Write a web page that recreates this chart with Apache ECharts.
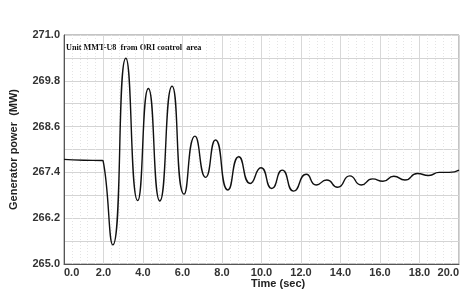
<!DOCTYPE html>
<html>
<head>
<meta charset="utf-8">
<script src="https://cdn.jsdelivr.net/npm/echarts@6/dist/echarts.min.js"></script>
<style>
  html, body { margin: 0; padding: 0; background: #fff; }
  #chart { width: 476px; height: 298px; }
</style>
</head>
<body>
<div id="chart"></div>
<script>
// time (sec) and generator power (MW)
var timeSec = [0, 1.0, 1.93, 1.98, 2.47, 3.13, 3.73, 4.27, 4.85, 5.47, 6.08, 6.63, 7.17, 7.67,
  8.3, 8.85, 9.43, 9.97, 10.52, 11.05, 11.63, 12.27, 12.77, 13.3, 13.85, 14.47, 15.05,
  15.62, 16.15, 16.7, 17.26, 17.89, 18.47, 19.0, 19.5, 20.0];
var powerMW = [267.74, 267.72, 267.71, 267.70, 265.50, 270.39, 266.66, 269.60, 266.65, 269.66,
  266.83, 268.35, 267.27, 268.25, 266.94, 267.81, 267.11, 267.52, 266.98, 267.46, 266.91,
  267.35, 267.07, 267.20, 267.01, 267.31, 267.07, 267.23, 267.17, 267.30, 267.20, 267.37,
  267.32, 267.40, 267.40, 267.46];
var yTicks = [265.0, 266.2, 267.4, 268.6, 269.8, 271.0];
var xTicks = [0, 2, 4, 6, 8, 10, 12, 14, 16, 18, 20];
var caption = "Unit MMT-U8  from ORI control  area";

var chart = echarts.init(document.getElementById("chart"));
var points = timeSec.map(function (t, i) { return [t, powerMW[i]]; });

var labelStyle = {
  color: "#333",
  fontFamily: "Liberation Sans",
  fontWeight: "bold",
  fontSize: 11
};

var option = {
  animation: false,
  grid: {
    left: 59, right: 17, top: 35, bottom: 34,
    show: true,
    borderColor: "#888",
    borderWidth: 1
  },
  xAxis: {
    type: "value",
    min: xTicks[0],
    max: xTicks[xTicks.length - 1],
    interval: 2,
    axisLine: { lineStyle: { color: "#555", width: 1 } },
    axisTick: { show: false },
    axisLabel: Object.assign({
      margin: 3,
      alignMinLabel: "left",
      alignMaxLabel: "right",
      formatter: function (v) { return v.toFixed(1); }
    }, labelStyle),
    splitLine: { lineStyle: { color: "#d8d8d8", width: 1 } },
    minorTick: { show: false, splitNumber: 5 },
    minorSplitLine: { show: true, lineStyle: { color: "#e4e4e4", type: [1, 2] } }
  },
  yAxis: {
    type: "value",
    min: yTicks[0],
    max: yTicks[yTicks.length - 1],
    interval: 1.2,
    name: "Generator power  (MW)",
    nameLocation: "middle",
    nameGap: 45,
    nameTextStyle: {
      color: "#222",
      fontFamily: "Liberation Sans",
      fontWeight: "bold",
      fontSize: 11
    },
    axisLine: { show: true, lineStyle: { color: "#555", width: 1 } },
    axisTick: { show: false },
    axisLabel: Object.assign({
      margin: 4,
      formatter: function (v) { return v.toFixed(1); }
    }, labelStyle),
    splitLine: { lineStyle: { color: "#d4d4d4", width: 1 } },
    minorTick: { show: false, splitNumber: 2 },
    minorSplitLine: { show: true, lineStyle: { color: "#d4d4d4", width: 1 } }
  },
  graphic: [
    {
      type: "text",
      left: 66,
      top: 44,
      style: {
        text: caption,
        fill: "#111",
        font: "bold 8.2px 'Liberation Serif'"
      }
    },
    {
      type: "text",
      left: 251,
      top: 278,
      style: {
        text: "Time (sec)",
        fill: "#222",
        font: "bold 11px 'Liberation Sans'"
      }
    }
  ],
  series: [
    {
      type: "line",
      data: points,
      smooth: 0.6,
      showSymbol: false,
      symbol: "none",
      lineStyle: { color: "#111", width: 1.4 }
    }
  ]
};
chart.setOption(option);
window.addEventListener("resize", function () { chart.resize(); });
</script>
</body>
</html>
